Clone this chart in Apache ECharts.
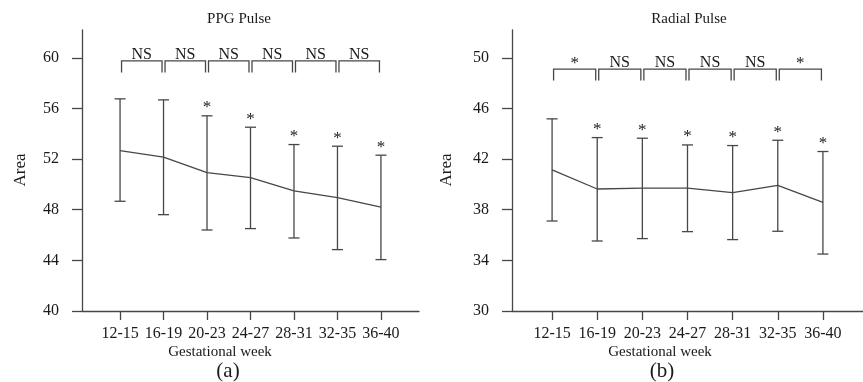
<!DOCTYPE html>
<html><head><meta charset="utf-8">
<script src="https://cdn.jsdelivr.net/npm/echarts@6/dist/echarts.min.js"></script>
<style>html,body{margin:0;padding:0;background:#fff}#c{width:863px;height:382px}</style>
</head><body><div id="c"></div>
<script>
const categories = ['12-15','16-19','20-23','24-27','28-31','32-35','36-40'];
const ppgMean  = [52.67, 52.15, 50.93, 50.54, 49.49, 48.96, 48.20];
const ppgUpper = [56.76, 56.68, 55.42, 54.52, 53.15, 53.02, 52.31];
const ppgLower = [48.67, 47.61, 46.40, 46.51, 45.77, 44.85, 44.06];
const ppgStar  = [false, false, true, true, true, true, true];
const ppgBrackets = ['NS','NS','NS','NS','NS','NS'];
const radMean  = [41.15, 39.64, 39.70, 39.70, 39.35, 39.93, 38.59];
const radUpper = [45.18, 43.70, 43.65, 43.12, 43.07, 43.49, 42.60];
const radLower = [37.11, 35.53, 35.72, 36.27, 35.64, 36.30, 34.50];
const radStar  = [false, true, true, true, true, true, true];
const radBrackets = ['*','NS','NS','NS','NS','*'];
const ppgTicks = [40, 44, 48, 52, 56, 60];
const radTicks = [30, 34, 38, 42, 46, 50];
const titles = ['PPG Pulse', 'Radial Pulse'];
const panelTags = ['(a)', '(b)'];
const xName = 'Gestational week';
const yName = 'Area';

const FONT = '"Liberation Serif", "Times New Roman", serif';
const LINE = '#474747';
const TEXT = '#1a1a1a';
const catIdx = categories.map((c, i) => i);

const chart = echarts.init(document.getElementById('c'));

function xAxisCfg(g, pad) {
  return {
    type: 'value', gridIndex: g, min: -pad, max: categories.length - 1 + pad,
    splitLine: {show: false},
    axisLine: {show: true, onZero: false, lineStyle: {color: LINE, width: 1.3}},
    axisTick: {show: true, customValues: catIdx, length: 9, lineStyle: {color: LINE, width: 1.3}},
    axisLabel: {customValues: catIdx, formatter: v => categories[Math.round(v)] || '',
      fontFamily: FONT, fontSize: 16, color: TEXT, margin: 15}
  };
}
function yAxisCfg(g, ticks, top) {
  return {
    type: 'value', gridIndex: g, min: ticks[0], max: top,
    splitLine: {show: false},
    axisLine: {show: true, onZero: false, lineStyle: {color: LINE, width: 1.3}},
    axisTick: {show: true, customValues: ticks, length: 10, lineStyle: {color: LINE, width: 1.3}},
    axisLabel: {customValues: ticks, fontFamily: FONT, fontSize: 16, color: TEXT, margin: 23}
  };
}

function errRender(star) {
  return function (params, api) {
    const i = api.value(0);
    const top = api.coord([i, api.value(2)]);
    const bot = api.coord([i, api.value(1)]);
    const st = {stroke: LINE, lineWidth: 1.3};
    const ch = [
      {type: 'line', shape: {x1: top[0], y1: top[1], x2: bot[0], y2: bot[1]}, style: st},
      {type: 'line', shape: {x1: top[0] - 5.5, y1: top[1], x2: top[0] + 5.5, y2: top[1]}, style: st},
      {type: 'line', shape: {x1: bot[0] - 5.5, y1: bot[1], x2: bot[0] + 5.5, y2: bot[1]}, style: st}
    ];
    if (star[i]) {
      ch.push({type: 'text', x: top[0], y: top[1] + 0.5,
        style: {text: '*', font: '17px ' + FONT, fill: TEXT, textAlign: 'center', textVerticalAlign: 'bottom'}});
    }
    return {type: 'group', children: ch};
  };
}

function bracketRender(level) {
  return function (params, api) {
    const i = api.value(0);
    const a = api.coord([i, level]);
    const b = api.coord([i + 1, level]);
    const x1 = a[0] + 1.5, x2 = b[0] - 1.5, y = a[1], yb = a[1] + 11.5;
    const star = api.value(1) === 1;
    return {type: 'group', children: [
      {type: 'polyline', shape: {points: [[x1, yb], [x1, y], [x2, y], [x2, yb]]},
        style: {stroke: LINE, lineWidth: 1.3, fill: null}},
      {type: 'text', x: (x1 + x2) / 2, y: star ? y + 3 : y + 1.5,
        style: {text: star ? '*' : 'NS', font: (star ? 17 : 16) + 'px ' + FONT, fill: TEXT,
          textAlign: 'center', textVerticalAlign: 'bottom'}}
    ]};
  };
}

function panelSeries(g, mean, upper, lower, star, brackets, level) {
  return [
    {type: 'line', xAxisIndex: g, yAxisIndex: g, data: mean.map((v, i) => [i, v]),
      symbol: 'none', lineStyle: {color: LINE, width: 1.3}, silent: true, z: 3},
    {type: 'custom', xAxisIndex: g, yAxisIndex: g, renderItem: errRender(star),
      data: mean.map((v, i) => [i, lower[i], upper[i]]), silent: true, z: 2},
    {type: 'custom', xAxisIndex: g, yAxisIndex: g, renderItem: bracketRender(level),
      data: brackets.map((b, i) => [i, b === '*' ? 1 : 0]), silent: true, clip: false, z: 2}
  ];
}

function txt(x, y, s, size, rot) {
  return {type: 'text', x: x, y: y, rotation: rot || 0,
    style: {text: s, font: size + 'px ' + FONT, fill: TEXT, textAlign: 'center', textVerticalAlign: 'middle'}};
}

chart.setOption({
  animation: false,
  backgroundColor: '#fff',
  grid: [
    {left: 82, top: 30, width: 337, height: 281},
    {left: 512, top: 30, width: 361.6, height: 281}
  ],
  xAxis: [xAxisCfg(0, 0.875), xAxisCfg(1, 0.888)],
  yAxis: [yAxisCfg(0, ppgTicks, 62.2), yAxisCfg(1, radTicks, 52.2)],
  series: [].concat(
    panelSeries(0, ppgMean, ppgUpper, ppgLower, ppgStar, ppgBrackets, 59.76),
    panelSeries(1, radMean, radUpper, radLower, radStar, radBrackets, 49.11)
  ),
  graphic: [
    txt(239, 19, titles[0], 15),
    txt(689, 19, titles[1], 15),
    txt(21, 170, yName, 17, Math.PI / 2),
    txt(447, 170, yName, 17, Math.PI / 2),
    txt(220, 352, xName, 15),
    txt(660, 352, xName, 15),
    txt(228, 371, panelTags[0], 21),
    txt(662, 371, panelTags[1], 21)
  ]
});
</script></body></html>
